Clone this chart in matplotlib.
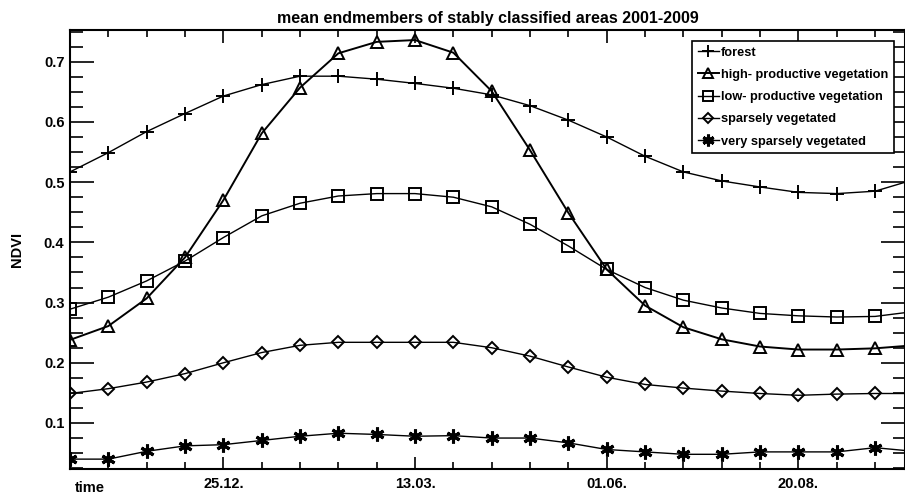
import numpy as np
from matplotlib import pyplot as plt
from matplotlib.ticker import MultipleLocator, FixedLocator

plt.rcParams['font.family'] = ['Liberation Sans', 'DejaVu Sans']
plt.rcParams['font.weight'] = 'bold'

# 16-day composites, index 0 = start of the season
steps = np.arange(23)
tick_pos = [4, 9, 14, 19]
tick_labels = ['25.12.', '13.03.', '01.06.', '20.08.']

forest = [0.517, 0.549, 0.584, 0.614, 0.643, 0.662, 0.676, 0.676, 0.671, 0.664, 0.656,
          0.645, 0.627, 0.603, 0.575, 0.543, 0.517, 0.502, 0.492, 0.483, 0.481, 0.485, 0.504]
high_prod = [0.238, 0.261, 0.307, 0.375, 0.470, 0.581, 0.657, 0.714, 0.733, 0.736, 0.715,
             0.651, 0.553, 0.449, 0.355, 0.295, 0.259, 0.239, 0.227, 0.222, 0.222, 0.224, 0.229]
low_prod = [0.289, 0.309, 0.336, 0.369, 0.408, 0.444, 0.465, 0.477, 0.481, 0.481, 0.475,
            0.459, 0.430, 0.394, 0.355, 0.325, 0.304, 0.291, 0.282, 0.278, 0.276, 0.277, 0.285]
sparse = [0.149, 0.157, 0.168, 0.182, 0.200, 0.217, 0.229, 0.234, 0.234, 0.234, 0.234,
          0.225, 0.211, 0.193, 0.176, 0.164, 0.158, 0.153, 0.149, 0.146, 0.148, 0.149, 0.149]
very_sparse = [0.040, 0.040, 0.053, 0.062, 0.064, 0.071, 0.078, 0.083, 0.081, 0.078, 0.079,
               0.075, 0.075, 0.067, 0.056, 0.052, 0.048, 0.048, 0.052, 0.052, 0.052, 0.059, 0.053]

series = [
    ('forest', forest, '+', 1.0),
    ('high- productive vegetation', high_prod, '^', 1.4),
    ('low- productive vegetation', low_prod, 's', 1.0),
    ('sparsely vegetated', sparse, 'D', 1.0),
    ('very sparsely vegetated', very_sparse, (6, 2, 0), 1.0),
]
msizes = {'+': 10, '^': 8, 's': 8, 'D': 6}

fig = plt.figure(figsize=(9.05, 4.94), dpi=100)
ax = fig.add_axes([70 / 905, 25 / 494, 835 / 905, 439 / 494])

for name, vals, mk, lw in series:
    star = not isinstance(mk, str)
    ax.plot(steps, vals, color='black', lw=lw, marker=mk,
            ms=msizes.get(mk, 10) if not star else 10, mfc='none', mec='black',
            mew=2.2 if star else 1.4, label=name)

ax.set_xlim(0, 21.78)
ax.set_ylim(0.0236, 0.7527)

ax.xaxis.set_major_locator(FixedLocator(tick_pos))
ax.set_xticklabels(tick_labels)
ax.xaxis.set_minor_locator(MultipleLocator(1))
ax.yaxis.set_major_locator(MultipleLocator(0.1))
ax.yaxis.set_minor_locator(MultipleLocator(0.025))
ax.tick_params(which='both', direction='in', top=True, right=True, width=1.2,
               labelsize=10.5, colors='black')
ax.tick_params(axis='y', which='major', length=17, pad=4)
ax.tick_params(axis='y', which='minor', length=9)
ax.tick_params(axis='x', which='major', length=9, pad=6)
ax.tick_params(axis='x', which='minor', length=5)
for lab in ax.get_xticklabels() + ax.get_yticklabels():
    lab.set_fontweight('bold')
for sp in ax.spines.values():
    sp.set_linewidth(1.5)

ax.text(0.006, -0.028, 'time', transform=ax.transAxes, ha='left', va='top',
        fontsize=10.5, fontweight='bold')
fig.text(17 / 905, 0.495, 'NDVI', rotation=90, ha='center', va='center',
         fontsize=10.5, fontweight='bold')
ax.set_title('mean endmembers of stably classified areas 2001-2009',
             fontsize=11.5, fontweight='bold', pad=5)

leg = ax.legend(loc='upper right', bbox_to_anchor=(0.987, 0.975), fancybox=False,
                edgecolor='black', framealpha=1, prop={'size': 9.2, 'weight': 'bold'},
                handlelength=1.6, handletextpad=0.2, borderpad=0.45, labelspacing=0.8,
                borderaxespad=0, markerscale=0.85)
leg.get_frame().set_linewidth(1.2)

fig.savefig('out.png', dpi=100)
